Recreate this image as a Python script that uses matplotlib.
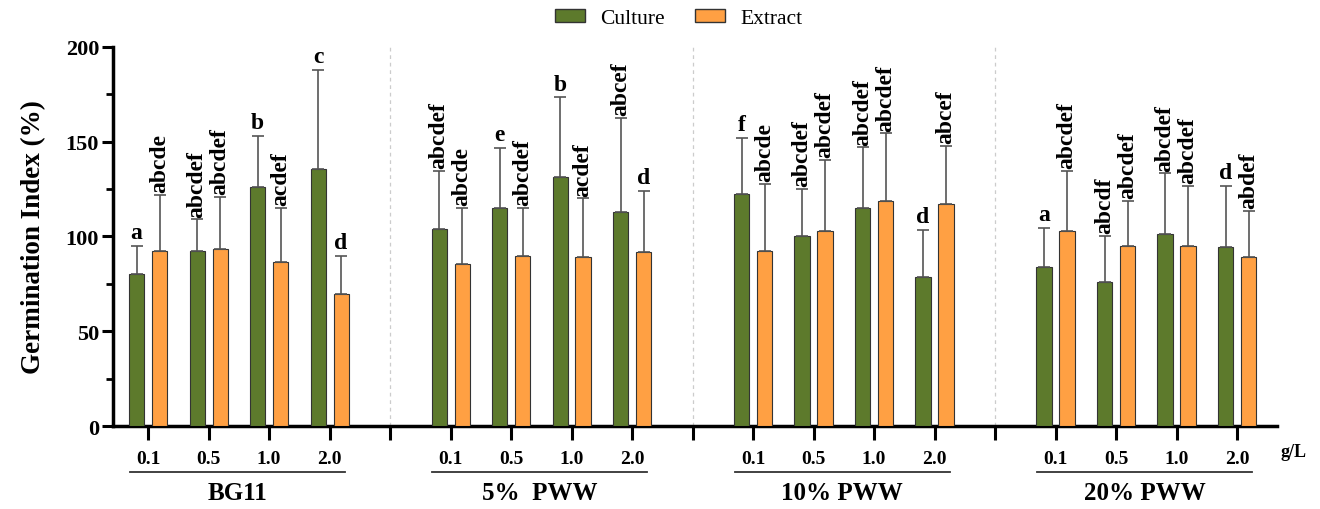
import matplotlib.pyplot as plt
import matplotlib.patches as mpatches
import numpy as np

plt.rcParams['font.family'] = ['Liberation Serif', 'DejaVu Serif']

groups = ["BG11", "5%  PWW", "10% PWW", "20% PWW"]
doses = ["0.1", "0.5", "1.0", "2.0"]

culture = [80.2, 92.2, 126.1, 135.8,
           104.0, 115.2, 131.6, 112.7,
           122.2, 100.4, 115.0, 78.6,
           84.1, 76.2, 101.3, 94.2]
culture_err = [14.9, 16.8, 26.9, 52.2,
               30.6, 31.7, 41.8, 50.0,
               29.8, 24.8, 32.0, 24.8,
               20.6, 24.2, 32.0, 32.6]
extract = [92.2, 93.2, 86.4, 69.7,
           85.5, 89.9, 89.2, 92.0,
           92.3, 102.7, 118.6, 117.2,
           102.7, 95.1, 95.1, 89.3]
extract_err = [29.9, 27.5, 28.5, 20.0,
               29.7, 25.3, 30.9, 32.2,
               35.4, 37.5, 35.8, 30.6,
               31.9, 23.6, 31.7, 24.1]
culture_lbl = ["a", "abcdef", "b", "c",
               "abcdef", "e", "b", "abcef",
               "f", "abcdef", "abcdef", "d",
               "a", "abcdf", "abcdef", "d"]
extract_lbl = ["abcde", "abcdef", "acdef", "d",
               "abcde", "abcdef", "acdef", "d",
               "abcde", "abcdef", "abcdef", "abcef",
               "abcdef", "abcdef", "abcdef", "abdef"]

green = "#5d7a2c"
orange = "#ffa043"

# positions: 4 doses per group, one empty slot between groups
pos = np.array([g * 5 + d + 1 for g in range(4) for d in range(4)], dtype=float)
sep = [5, 10, 15]
w = 0.25
off = 0.19

fig = plt.figure(figsize=(13.2, 5.1), dpi=100)
ax = fig.add_axes([0.0856, 0.1627, 0.8818, 0.7433])

ekw = dict(ecolor="#555555", elinewidth=1.2, capsize=4, capthick=1.2)
ax.bar(pos - off, culture, w, color=green, edgecolor="#333333", linewidth=0.8,
       yerr=[np.zeros(16), culture_err], error_kw=ekw, label="Culture", zorder=3)
ax.bar(pos + off, extract, w, color=orange, edgecolor="#333333", linewidth=0.8,
       yerr=[np.zeros(16), extract_err], error_kw=ekw, label="Extract", zorder=3)

for x, v, e, t in zip(pos - off, culture, culture_err, culture_lbl):
    rot = 0 if len(t) == 1 else 90
    ax.text(x, v + e + 1.5, t, ha="center", va="bottom", rotation=rot,
            fontsize=17, fontweight="bold")
for x, v, e, t in zip(pos + off, extract, extract_err, extract_lbl):
    rot = 0 if len(t) == 1 else 90
    ax.text(x, v + e + 1.5, t, ha="center", va="bottom", rotation=rot,
            fontsize=17, fontweight="bold")

for s in sep:
    ax.axvline(s, color="#cccccc", linestyle=(0, (3, 3)), linewidth=0.9, zorder=1)

ax.set_xlim(0.42, 19.66)
ax.set_ylim(0, 200)
ax.set_yticks([0, 50, 100, 150, 200])
ax.set_yticks(np.arange(0, 201, 25), minor=True)

xt = list(pos) + sep
xl = doses * 4 + [""] * 3
ax.set_xticks(xt)
ax.set_xticklabels(xl)

for s in ["top", "right"]:
    ax.spines[s].set_visible(False)
for s in ["left", "bottom"]:
    ax.spines[s].set_linewidth(2.5)

ax.tick_params(axis="x", which="major", length=10, width=2.2, pad=7,
               labelsize=14)
ax.tick_params(axis="y", which="major", length=8, width=2.2, pad=2, labelsize=16)
ax.tick_params(axis="y", which="minor", length=5, width=2.0)
for lab in ax.get_xticklabels() + ax.get_yticklabels():
    lab.set_fontweight("bold")

ax.set_ylabel("Germination Index (%)", fontsize=19.5, fontweight="bold", labelpad=14)

ax.text(19.93, -13.5, "g/L", ha="center", va="center", fontsize=13, fontweight="bold")

# group labels with underline
for g, name in enumerate(groups):
    x0 = g * 5 + 1 - 0.3
    x1 = g * 5 + 4 + 0.25
    ax.plot([x0, x1], [-24.5, -24.5], color="#333333", linewidth=1.3, clip_on=False)
    ax.text((x0 + x1) / 2, -35, name, ha="center", va="center", fontsize=18,
            fontweight="bold")

fig.legend(handles=[mpatches.Patch(facecolor=green, edgecolor="#333333", label="Culture"),
                    mpatches.Patch(facecolor=orange, edgecolor="#333333", label="Extract")],
           loc="center", bbox_to_anchor=(0.514, 0.962), ncol=2, frameon=False,
           fontsize=15.5, handlelength=1.4, handleheight=0.6, handletextpad=0.7,
           columnspacing=1.4, borderaxespad=0)

fig.savefig("out.png", dpi=100)
